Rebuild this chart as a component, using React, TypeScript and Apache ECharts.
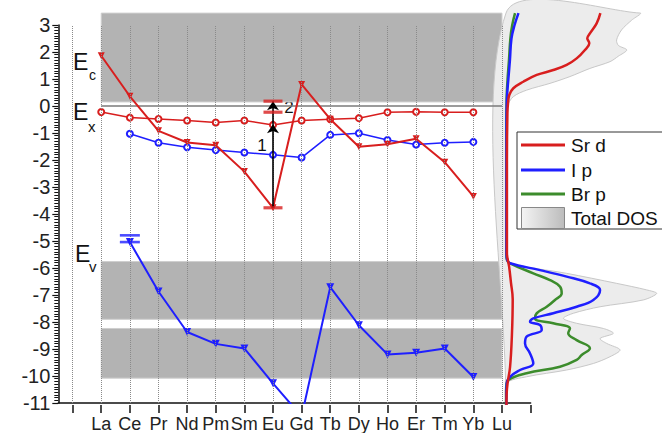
import React, { useEffect, useRef } from 'react';
import * as echarts from 'echarts';

// ---------- data ----------
const categories = ['La', 'Ce', 'Pr', 'Nd', 'Pm', 'Sm', 'Eu', 'Gd', 'Tb', 'Dy', 'Ho', 'Er', 'Tm', 'Yb', 'Lu'];
const catPositions = categories.map((_, i) => i + 1);
const gridPositions = Array.from({ length: 16 }, (_, i) => i);

// Ln2+ 4f ground state (red triangles)
const ln2Red = [1.86, 0.36, -0.92, -1.35, -1.45, -2.43, -3.77, 0.8, -0.49, -1.51, -1.42, -1.21, -2.08, -3.35, null];
// red open circles
const exRed = [-0.22, -0.43, -0.48, -0.54, -0.61, -0.54, -0.7, -0.54, -0.49, -0.45, -0.23, -0.21, -0.23, -0.23, null];
// blue open circles
const exBlue = [null, -1.03, -1.36, -1.53, -1.63, -1.72, -1.81, -1.91, -1.07, -1.01, -1.26, -1.43, -1.36, -1.33, null];
// blue triangles
const ln2Blue = [null, -5.04, -6.87, -8.37, -8.81, -8.98, -10.27, -11.5, -6.71, -8.12, -9.2, -9.14, -8.98, -10.04, null];

const euPos = 7;
const cePos = 2;
const redBarsEu = [0.18, -0.23, -3.77];
const blueBarsCe = [-4.79, -5.04];
const arrowSteps = [-3.77, -0.68, 0.18];

const bandXRange = [1, 15];
const cbBand = [0.15, 3.44];
const vbBands = [
  [-7.9, -5.76],
  [-10.08, -8.24],
];
const exLevel = 0;

// DOS curves: [energy, dos]
const srD = [
  [3.44, 60.5], [3.06, 58.1], [2.69, 53.8], [2.51, 52.1], [2.33, 53.4], [2.08, 50.6], [1.77, 45.3], [1.53, 38.9],
  [1.34, 30.3], [1.16, 19.7], [0.91, 11.1], [0.67, 4.7], [0.42, 2.1], [0.12, 1.3], [-0.25, 0.9], [-2, 0.6],
  [-5.4, 0.6], [-5.9, 2.0], [-6.5, 3.2], [-7.1, 4.3], [-8.4, 3.8], [-9.6, 2.6], [-10.2, 1.0], [-10.6, 0.4], [-11, 0.3],
];
const iP = [
  [3.44, 8.0], [3.0, 5.5], [2.5, 3.5], [1.7, 2.5], [1.0, 1.5], [0.3, 0.6], [-1, 0.3], [-5.4, 0.3], [-5.66, 0.8],
  [-5.78, 2.6], [-6.03, 21.8], [-6.27, 38.9], [-6.52, 53.8], [-6.76, 60.3], [-7.13, 56], [-7.38, 45.3], [-7.62, 30.3],
  [-7.81, 17.5], [-7.93, 15.4], [-8.05, 21.8], [-8.24, 22.9], [-8.48, 13.2], [-8.73, 12.2], [-9.1, 15.4], [-9.47, 17.5],
  [-9.71, 9], [-9.96, 2.6], [-10.2, 0.5], [-11, 0.2],
];
const brP = [
  [3.44, 5.8], [3.0, 4], [2.5, 2.8], [1.7, 1.9], [1.0, 1.0], [0.3, 0.4], [-1, 0.2], [-5.4, 0.2], [-5.66, 0.6],
  [-5.78, 2.6], [-6.15, 17.5], [-6.4, 28.2], [-6.64, 34.6], [-6.89, 35.7], [-7.13, 31.4], [-7.38, 26.1], [-7.62, 19.7],
  [-7.81, 18.6], [-7.99, 30.3], [-8.18, 41], [-8.36, 39.9], [-8.61, 45.3], [-8.91, 53.8], [-9.16, 48.5], [-9.34, 45.3],
  [-9.59, 34.6], [-9.83, 13.2], [-10.08, 1.5], [-10.33, 0.2], [-11, 0],
];
const totalDos = [
  [3.44, 86], [3.18, 80.6], [2.82, 74.1], [2.45, 70.9], [2.25, 72], [2.08, 77.4], [1.85, 72], [1.65, 66.7], [1.4, 53.8],
  [1.1, 41], [0.85, 28.2], [0.6, 13.2], [0.36, 4.7], [0.0, 0.9], [-1, 0.3], [-5.5, 0.3], [-5.78, 2.6], [-6.15, 38.9],
  [-6.52, 71], [-6.76, 90.2], [-6.89, 96.6], [-7.13, 88], [-7.38, 60.3], [-7.62, 43.2], [-7.81, 36.8], [-7.99, 45.3],
  [-8.18, 62.4], [-8.36, 68.8], [-8.55, 60.3], [-8.73, 64.5], [-8.97, 73.1], [-9.22, 66.7], [-9.47, 56], [-9.71, 38.9],
  [-9.96, 13.2], [-10.2, 0.4], [-11, 0],
];

const legendNames = ['Sr d', 'I p', 'Br p', 'Total DOS'];

// ---------- styles ----------
const RED = '#d81e1e';
const BLUE = '#1f1fff';
const GREEN = '#3c8c2c';
const FONT = '"Liberation Sans", Arial, sans-serif';

const toPairs = (vals: (number | null)[]) =>
  catPositions.map((x, i) => [x, vals[i]]).filter((p) => p[1] !== null);

const dosPairs = (arr: number[][]) => arr.map(([e, v]) => [v, e]);

export default function App() {
  const ref = useRef<HTMLDivElement>(null);
  useEffect(() => {
    if (!ref.current) return;
    const chart = echarts.init(ref.current, null, { renderer: 'svg' });

    const bandData = [
      [bandXRange[0], bandXRange[1], cbBand[0], cbBand[1]],
      ...vbBands.map((b) => [bandXRange[0], bandXRange[1], b[0], b[1]]),
    ];

    const totalPoly = [[cbBand[1], 0], ...totalDos, [-11, 0]];

    // main grid: x from -0.5 to 16 ; tick grid: x from 0 to 16 (same scale)
    const mainLeft = 58.3;
    const mainWidth = 472.3;
    const unit = mainWidth / 16.5;

    const option: any = {
      animation: false,
      textStyle: { fontFamily: FONT },
      grid: [
        { left: mainLeft, top: 25, width: mainWidth, height: 380 },
        { left: 506, top: 13.06, width: 156, height: 391.94 },
        { left: mainLeft + unit * 0.5, top: 25, width: unit * 16, height: 380 },
      ],
      xAxis: [
        {
          gridIndex: 0,
          type: 'value',
          min: -0.5,
          max: 16,
          position: 'bottom',
          axisLine: { show: true, onZero: false, lineStyle: { color: '#111', width: 1.5 } },
          axisTick: { show: false },
          axisLabel: {
            customValues: catPositions,
            formatter: (v: number) => categories[Math.round(v) - 1] || '',
            fontSize: 18,
            margin: 12,
            color: '#222',
            fontFamily: FONT,
          },
          splitLine: { show: false },
        },
        { gridIndex: 1, type: 'value', min: 0, max: 100, show: false, axisLine: { onZero: false } },
        {
          gridIndex: 2,
          type: 'value',
          min: 0,
          max: 16,
          interval: 1,
          position: 'bottom',
          axisLine: { show: false, onZero: false },
          axisTick: { show: true, length: 8, lineStyle: { color: '#111', width: 1.5 } },
          axisLabel: { show: false },
          splitLine: { show: false },
        },
      ],
      yAxis: [
        {
          gridIndex: 0,
          type: 'value',
          min: -11,
          max: 3,
          interval: 1,
          position: 'left',
          axisLine: { show: true, onZero: false, lineStyle: { color: '#111', width: 1.5 } },
          axisTick: { show: true, length: 6, lineStyle: { color: '#111', width: 1.2 } },
          minorTick: { show: true, splitNumber: 10, length: 4, lineStyle: { color: '#111', width: 1 } },
          axisLabel: { fontSize: 20, margin: 8, color: '#222', fontFamily: FONT },
          splitLine: { show: false },
          minorSplitLine: { show: false },
        },
        { gridIndex: 1, type: 'value', min: -11, max: 3.44, show: false, axisLine: { onZero: false } },
        { gridIndex: 2, type: 'value', min: -11, max: 3, show: false, axisLine: { onZero: false } },
      ],
      series: [
        {
          type: 'custom',
          name: 'bands',
          xAxisIndex: 0,
          yAxisIndex: 0,
          z: 1,
          silent: true,
          clip: false,
          data: bandData,
          renderItem: (params: any, api: any) => {
            const p1 = api.coord([api.value(0), api.value(3)]);
            const p2 = api.coord([api.value(1), api.value(2)]);
            return {
              type: 'rect',
              shape: { x: p1[0], y: p1[1], width: p2[0] - p1[0], height: p2[1] - p1[1] },
              style: { fill: '#b3b3b3', stroke: '#cfcfcf', lineWidth: 1 },
            };
          },
        },
        {
          type: 'line',
          name: 'Ex',
          xAxisIndex: 0,
          yAxisIndex: 0,
          z: 2,
          silent: true,
          data: [
            [bandXRange[0], exLevel],
            [bandXRange[1], exLevel],
          ],
          symbol: 'none',
          lineStyle: { color: '#7a7a7a', width: 1.6 },
          markLine: {
            silent: true,
            symbol: ['none', 'none'],
            label: { show: false },
            lineStyle: { type: 'dotted', color: '#8a8a8a', width: 1 },
            emphasis: { disabled: true },
            data: gridPositions.map((v) => ({ xAxis: v })),
          },
        },
        {
          type: 'line',
          name: 'exRed',
          xAxisIndex: 0,
          yAxisIndex: 0,
          z: 3,
          data: toPairs(exRed),
          symbol: 'emptyCircle',
          symbolSize: 6,
          itemStyle: { color: RED, borderWidth: 1 },
          lineStyle: { color: RED, width: 1.5 },
        },
        {
          type: 'line',
          name: 'exBlue',
          xAxisIndex: 0,
          yAxisIndex: 0,
          z: 3,
          data: toPairs(exBlue),
          symbol: 'emptyCircle',
          symbolSize: 6,
          itemStyle: { color: BLUE, borderWidth: 1 },
          lineStyle: { color: BLUE, width: 1.5 },
        },
        {
          type: 'line',
          name: 'ln2Red',
          xAxisIndex: 0,
          yAxisIndex: 0,
          z: 4,
          data: toPairs(ln2Red),
          symbol: 'triangle',
          symbolRotate: 180,
          symbolSize: 7,
          itemStyle: { color: RED },
          lineStyle: { color: RED, width: 2 },
        },
        {
          type: 'line',
          name: 'ln2Blue',
          xAxisIndex: 0,
          yAxisIndex: 0,
          z: 4,
          data: toPairs(ln2Blue),
          symbol: 'triangle',
          symbolRotate: 180,
          symbolSize: 8,
          itemStyle: { color: BLUE },
          lineStyle: { color: BLUE, width: 2 },
        },
        {
          type: 'scatter',
          name: 'redBars',
          xAxisIndex: 0,
          yAxisIndex: 0,
          z: 5,
          data: redBarsEu.map((v) => [euPos, v]),
          symbol: 'rect',
          symbolSize: [19, 3.2],
          itemStyle: { color: RED },
          markLine: {
            silent: true,
            symbol: ['none', 'arrow'],
            symbolSize: 9,
            label: { show: false },
            lineStyle: { type: 'solid', color: '#000', width: 1.6 },
            emphasis: { disabled: true },
            data: [
              [{ coord: [euPos, arrowSteps[0]] }, { coord: [euPos, arrowSteps[1]] }],
              [{ coord: [euPos, arrowSteps[1]] }, { coord: [euPos, arrowSteps[2]] }],
            ],
          },
        },
        {
          type: 'scatter',
          name: 'blueBars',
          xAxisIndex: 0,
          yAxisIndex: 0,
          z: 5,
          data: blueBarsCe.map((v) => [cePos, v]),
          symbol: 'rect',
          symbolSize: [20, 2.6],
          itemStyle: { color: BLUE },
        },
        {
          type: 'custom',
          name: 'Total DOS',
          xAxisIndex: 1,
          yAxisIndex: 1,
          z: 1,
          silent: true,
          clip: false,
          data: [[0, 0]],
          renderItem: (params: any, api: any) => {
            const pts = totalPoly.map(([e, v]) => api.coord([v, e]));
            return {
              type: 'polygon',
              shape: { points: pts, smooth: 0.3 },
              style: { fill: '#ececec', stroke: '#c8c8c8', lineWidth: 1 },
            };
          },
        },
        {
          type: 'line',
          name: 'Br p',
          xAxisIndex: 1,
          yAxisIndex: 1,
          z: 3,
          data: dosPairs(brP),
          smooth: 0.4,
          symbol: 'none',
          lineStyle: { color: GREEN, width: 2.5 },
        },
        {
          type: 'line',
          name: 'I p',
          xAxisIndex: 1,
          yAxisIndex: 1,
          z: 3,
          data: dosPairs(iP),
          smooth: 0.4,
          symbol: 'none',
          lineStyle: { color: BLUE, width: 2.5 },
        },
        {
          type: 'line',
          name: 'Sr d',
          xAxisIndex: 1,
          yAxisIndex: 1,
          z: 3,
          data: dosPairs(srD),
          smooth: 0.4,
          symbol: 'none',
          lineStyle: { color: RED, width: 2.5 },
        },
      ],
      graphic: [
        // level labels
        { type: 'text', x: 73, y: 62, style: { text: 'E', fontSize: 23, fontFamily: FONT, fill: '#111', textVerticalAlign: 'middle', verticalAlign: 'middle' } },
        { type: 'text', x: 89, y: 75, style: { text: 'c', fontSize: 14, fontFamily: FONT, fill: '#111', textVerticalAlign: 'middle', verticalAlign: 'middle' } },
        { type: 'text', x: 73, y: 112, style: { text: 'E', fontSize: 23, fontFamily: FONT, fill: '#111', textVerticalAlign: 'middle', verticalAlign: 'middle' } },
        { type: 'text', x: 88, y: 126, style: { text: 'x', fontSize: 15, fontFamily: FONT, fill: '#111', textVerticalAlign: 'middle', verticalAlign: 'middle' } },
        { type: 'text', x: 75, y: 254, style: { text: 'E', fontSize: 23, fontFamily: FONT, fill: '#111', textVerticalAlign: 'middle', verticalAlign: 'middle' } },
        { type: 'text', x: 89, y: 266, style: { text: 'v', fontSize: 15, fontFamily: FONT, fill: '#111', textVerticalAlign: 'middle', verticalAlign: 'middle' } },
        { type: 'text', x: 262, y: 145, style: { text: '1', fontSize: 17, fontFamily: FONT, fill: '#111', textAlign: 'center', align: 'center', textVerticalAlign: 'middle', verticalAlign: 'middle' } },
        { type: 'text', x: 289, y: 107, style: { text: '2', fontSize: 17, fontFamily: FONT, fill: '#111', textAlign: 'center', align: 'center', textVerticalAlign: 'middle', verticalAlign: 'middle' } },
        // legend
        { type: 'rect', shape: { x: 517, y: 132, width: 150, height: 97 }, style: { fill: '#fff', stroke: '#333', lineWidth: 1 }, z: 10 },
        { type: 'line', shape: { x1: 521, y1: 145, x2: 565, y2: 145 }, style: { stroke: RED, lineWidth: 3 }, z: 11 },
        { type: 'line', shape: { x1: 521, y1: 170, x2: 565, y2: 170 }, style: { stroke: BLUE, lineWidth: 3 }, z: 11 },
        { type: 'line', shape: { x1: 521, y1: 194, x2: 565, y2: 194 }, style: { stroke: GREEN, lineWidth: 3 }, z: 11 },
        {
          type: 'rect',
          shape: { x: 521.5, y: 207.5, width: 43, height: 21 },
          style: {
            fill: new echarts.graphic.LinearGradient(0, 0, 1, 0, [
              { offset: 0, color: '#f4f4f4' },
              { offset: 1, color: '#bcbcbc' },
            ]),
            stroke: '#888',
            lineWidth: 1,
          },
          z: 11,
        },
        ...legendNames.map((name, i) => ({
          type: 'text',
          x: 571,
          y: [145, 170, 194, 218][i],
          z: 11,
          style: { text: name, fontSize: 19, fontFamily: FONT, fill: '#111', textVerticalAlign: 'middle', verticalAlign: 'middle' },
        })),
      ],
    };

    chart.setOption(option);
    return () => chart.dispose();
  }, []);

  return <div ref={ref} style={{ position: 'absolute', left: 0, top: 0, width: 662, height: 433 }} />;
}
